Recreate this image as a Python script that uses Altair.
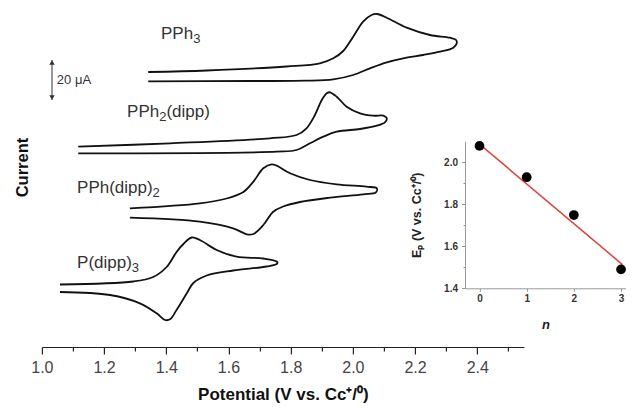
import altair as alt
import pandas as pd

# ---------------- cyclic voltammograms ----------------
names = ["PPh3", "PPh2(dipp)", "PPh(dipp)2", "P(dipp)3"]
# vertical stacking offset of each trace (uA)
offsets = [137.5, 100.15, 69.35, 31.25]

v_pph3 = [1.342, 1.530, 1.787, 1.894, 1.937, 1.969, 2.001, 2.033, 2.060, 2.078, 2.109, 2.173,
          2.248, 2.312, 2.332, 2.334, 2.323, 2.280, 2.226, 2.162, 2.109, 2.055, 2.001, 1.937,
          1.851, 1.669, 1.342]
i_pph3 = [0, 0.75, 2.75, 4.35, 6.85, 10.5, 17.65, 25.15, 28.5, 29.0, 27.15, 22.15,
          18.5, 17.15, 16.0, 14.35, 12.15, 10.15, 8.5, 6.85, 4.85, 1.85, -1.5, -3.65,
          -4.35, -4.5, -4.65]

v_pph2 = [1.117, 1.412, 1.733, 1.819, 1.851, 1.878, 1.900, 1.916, 1.926, 1.948, 1.980, 2.023,
          2.066, 2.098, 2.109, 2.103, 2.077, 2.023, 1.948, 1.905, 1.862, 1.819, 1.755, 1.117]
i_pph2 = [0, 1.7, 4.2, 5.85, 9.2, 15.85, 23.35, 26.7, 27.2, 25.0, 20.0, 16.7,
          15.5, 15.5, 14.2, 12.2, 10.5, 8.85, 7.5, 5.0, 1.7, -1.65, -2.5, -3.3]

v_pph1 = [1.283, 1.508, 1.594, 1.648, 1.680, 1.712, 1.739, 1.755, 1.798, 1.862, 1.948, 2.044,
          2.077, 2.074, 2.033, 1.926, 1.830, 1.776, 1.744, 1.712, 1.680, 1.659, 1.615, 1.508,
          1.283]
i_pph1 = [0, 2.5, 4.9, 8.15, 13.3, 20.0, 22.0, 21.3, 17.5, 14.15, 12.0, 10.8,
          10.0, 8.0, 7.0, 5.3, 3.15, 0.9, -1.7, -8.35, -12.85, -13.0, -10.0, -6.7,
          -4.7]

v_p0 = [1.058, 1.294, 1.358, 1.401, 1.433, 1.455, 1.482, 1.508, 1.562, 1.626, 1.712, 1.755,
        1.757, 1.723, 1.615, 1.530, 1.487, 1.466, 1.433, 1.412, 1.396, 1.369, 1.315, 1.219,
        1.058]
i_p0 = [0, 1.5, 3.75, 8.75, 16.25, 20.25, 23.5, 22.25, 17.25, 13.9, 13.0, 11.5,
        10.5, 9.0, 7.0, 4.5, 0.75, -4.4, -12.75, -17.4, -17.75, -14.4, -9.4, -5.25,
        -3.75]

potentials = [v_pph3, v_pph2, v_pph1, v_p0]
currents = [i_pph3, i_pph2, i_pph1, i_p0]

# label anchor of each trace (V, uA); text split into main part + subscript
label_v = [1.383, 1.274, 1.113, 1.113]
label_i = [154.0, 115.0, 77.0, 39.5]
label_main = ["PPh", "PPh", "PPh(dipp)", "P(dipp)"]
label_sub = ["3", "2", "2", "3"]
label_tail = ["", "(dipp)", "", ""]

# 20 uA scale bar
bar_v = [1.0325]
bar_lo = [123.5]
bar_hi = [143.5]
bar_text = ["20 μA"]

# ---------------- inset ----------------
n_vals = [0, 1, 2, 3]
ep_vals = [2.078, 1.929, 1.749, 1.49]
fit_n = [-0.05, 3.03]
fit_ep = [2.096, 1.513]

rows = []
for name, off, vs, cs in zip(names, offsets, potentials, currents):
    for k, (v, c) in enumerate(zip(vs, cs)):
        rows.append({"curve": name, "idx": k, "V": v, "I": c + off})
cv = pd.DataFrame(rows)
bar = pd.DataFrame({"V": bar_v, "I": bar_lo, "I2": bar_hi})
bar_top = pd.DataFrame({"V": bar_v, "I": bar_hi})
bar_bot = pd.DataFrame({"V": bar_v, "I": bar_lo})
bar_lab = pd.DataFrame({"V": [bar_v[0] + 0.0155], "I": [(bar_lo[0] + bar_hi[0]) / 2], "t": bar_text})
pts = pd.DataFrame({"n": n_vals, "Ep": ep_vals})
fit = pd.DataFrame({"n": fit_n, "Ep": fit_ep})

W, H = 482, 339
FONT = "Liberation Sans"
even = "round(datum.value*10) % 2 === 0"
LAB_FS, SUB_FS = 17, 13
# Arial/Liberation advance widths (em) for the label glyphs
adv = {"P": 0.667, "h": 0.556, "(": 0.333, "d": 0.556, "i": 0.222, "p": 0.556, ")": 0.333, "2": 0.556, "3": 0.556}


def text_w(s, fs):
    return sum(adv[c] for c in s) * fs


x_enc = alt.X(
    "V:Q",
    scale=alt.Scale(domain=[1.0, 2.55], nice=False, zero=False),
    axis=alt.Axis(
        values=[round(1.0 + 0.1 * k, 1) for k in range(16)],
        labelExpr=f"{even} ? format(datum.value, '.1f') : ''",
        tickSize={"condition": {"test": even, "value": 7}, "value": 4},
        grid=False, domainColor="#222", tickColor="#222", tickWidth=1.2, domainWidth=1.2,
        labelColor="#444", labelFontSize=16, labelPadding=5, labelFlush=False,
        labelOverlap=False,
        title="Potential (V vs. Cc⁺/⁰)", titleFontSize=17, titleFontWeight="bold",
        titleColor="#111", titlePadding=11,
    ),
)
y_enc = alt.Y(
    "I:Q",
    scale=alt.Scale(domain=[0, 169.5], nice=False, zero=False),
    axis=alt.Axis(
        domain=False, ticks=False, labels=False, grid=False,
        title="Current", titleFontSize=16.5, titleFontWeight="bold", titleColor="#111",
        titleX=-11, titleY=159, titleAngle=270, titleBaseline="bottom", titleAlign="center",
    ),
)

curves = alt.Chart(cv).mark_line(
    color="#111", strokeWidth=1.8, interpolate="catmull-rom"
).encode(x=x_enc, y=y_enc, detail="curve:N", order="idx:Q")

layers = [curves]
for lv, li, m, s, t in zip(label_v, label_i, label_main, label_sub, label_tail):
    d = pd.DataFrame({"V": [lv], "I": [li], "m": [m], "s": [s], "t": [t]})
    layers.append(alt.Chart(d).mark_text(
        align="left", baseline="alphabetic", fontSize=LAB_FS, color="#333"
    ).encode(x=x_enc, y=y_enc, text="m:N"))
    layers.append(alt.Chart(d).mark_text(
        align="left", baseline="alphabetic", fontSize=SUB_FS, color="#333",
        dx=text_w(m, LAB_FS), dy=4
    ).encode(x=x_enc, y=y_enc, text="s:N"))
    if t:
        layers.append(alt.Chart(d).mark_text(
            align="left", baseline="alphabetic", fontSize=LAB_FS, color="#333",
            dx=text_w(m, LAB_FS) + text_w(s, SUB_FS)
        ).encode(x=x_enc, y=y_enc, text="t:N"))

rule = alt.Chart(bar).mark_rule(color="#333", strokeWidth=1).encode(x=x_enc, y=y_enc, y2="I2:Q")
head_up = alt.Chart(bar_top).mark_point(
    shape="triangle-up", filled=True, size=30, color="#333", opacity=1, yOffset=2.5
).encode(x=x_enc, y=y_enc)
head_dn = alt.Chart(bar_bot).mark_point(
    shape="triangle-down", filled=True, size=30, color="#333", opacity=1, yOffset=-2.5
).encode(x=x_enc, y=y_enc)
bar_txt = alt.Chart(bar_lab).mark_text(
    align="left", baseline="middle", fontSize=13, color="#333"
).encode(x=x_enc, y=y_enc, text="t:N")
layers += [rule, head_up, head_dn, bar_txt]

main = alt.layer(*layers)

xi = alt.X(
    "n:Q",
    scale=alt.Scale(domain=[-0.307, 3.105], range=[423.1, 584.1], nice=False, zero=False),
    axis=alt.Axis(
        orient="bottom", offset=-58.7, values=[0, 1, 2, 3], format="d",
        tickSize=3, grid=False, domainColor="#999", tickColor="#999",
        labelColor="#333", labelFontSize=10, labelFontWeight="bold", labelPadding=2.5,
        labelFlush=False,
        title="n", titleFontSize=13, titleFontWeight="bold", titleFontStyle="italic",
        titleColor="#222", titlePadding=15,
    ),
)
yi = alt.Y(
    "Ep:Q",
    scale=alt.Scale(domain=[1.4, 2.1], range=[280.3, 133.3], nice=False, zero=False),
    axis=alt.Axis(
        orient="left", offset=-423.1,
        values=[round(1.4 + 0.1 * k, 1) for k in range(7)],
        labelExpr=f"{even} ? format(datum.value, '.1f') : ''",
        tickSize={"condition": {"test": even, "value": 3.5}, "value": 2},
        grid=False, domainColor="#999", tickColor="#999",
        labelColor="#333", labelFontSize=10, labelFontWeight="bold", labelPadding=4,
        labelFlush=False, labelOverlap=False,
        title="Eₚ (V vs. Cc⁺/⁰)", titleFontSize=12.5, titleFontWeight="bold",
        titleColor="#222", titlePadding=20,
    ),
)

fit_line = alt.Chart(fit).mark_line(color="#e0403a", strokeWidth=1.5).encode(x=xi, y=yi)
dots = alt.Chart(pts).mark_circle(size=95, color="#000", opacity=1).encode(x=xi, y=yi)
inset = alt.layer(fit_line, dots)

chart = (
    alt.layer(main, inset)
    .resolve_scale(x="independent", y="independent")
    .properties(
        width=W, height=H,
        padding={"left": 33.9, "top": 0, "right": 102.1, "bottom": 61},
        autosize=alt.AutoSizeParams(type="none"),
    )
    .configure(font=FONT)
    .configure_view(stroke=None)
)

chart.save("out.html", embed_options={"renderer": "svg", "actions": False})
